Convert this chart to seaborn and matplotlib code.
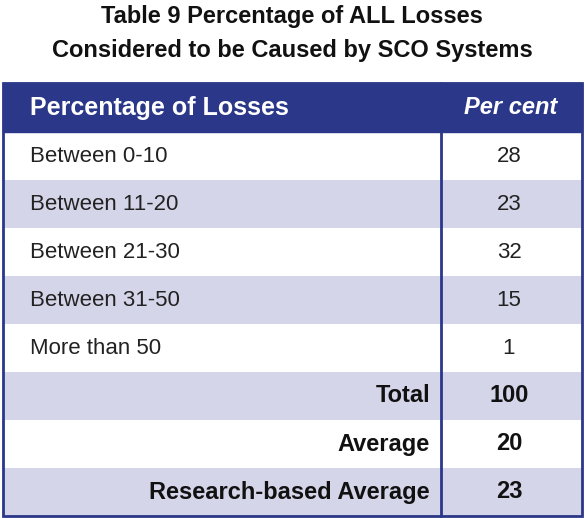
import matplotlib
matplotlib.use("Agg")
import matplotlib.pyplot as plt
import seaborn as sns
from matplotlib.patches import Rectangle

sns.set_style("white")
plt.rcParams['font.family'] = ['Liberation Sans', 'DejaVu Sans']

title = ["Table 9 Percentage of ALL Losses", "Considered to be Caused by SCO Systems"]
header = ["Percentage of Losses", "Per cent"]
categories = ["Between 0-10", "Between 11-20", "Between 21-30", "Between 31-50", "More than 50"]
values = [28, 23, 32, 15, 1]
summary_labels = ["Total", "Average", "Research-based Average"]
summary_values = [100, 20, 23]

navy = "#2b3788"
lav = "#d5d5ea"

fig = plt.figure(figsize=(5.85, 5.18), dpi=100)
ax = fig.add_axes([0, 0, 1, 1])
ax.set_xlim(0, 585)
ax.set_ylim(518, 0)
ax.axis("off")

ax.text(292, 16, title[0], ha="center", va="center", fontsize=17, fontweight="bold", color="#111")
ax.text(292, 50, title[1], ha="center", va="center", fontsize=17, fontweight="bold", color="#111")

x0, x1, xd = 3, 582, 441
top, hh, rh = 83, 49, 48
ax.add_patch(Rectangle((x0, top), x1 - x0, hh, color=navy))
ax.text(30, top + hh / 2, header[0], ha="left", va="center", fontsize=18, fontweight="bold", color="white")
ax.text(511, top + hh / 2, header[1], ha="center", va="center", fontsize=17, fontweight="bold", style="italic", color="white")

rows = [(c, str(v), False) for c, v in zip(categories, values)] + \
       [(c, str(v), True) for c, v in zip(summary_labels, summary_values)]
shade = [False, True, False, True, False, True, False, True]
for i, (lab, val, bold) in enumerate(rows):
    y = top + hh + i * rh
    if shade[i]:
        ax.add_patch(Rectangle((x0, y), x1 - x0, rh, color=lav, lw=0))
    yc = y + rh / 2
    if bold:
        ax.text(430, yc, lab, ha="right", va="center", fontsize=17, fontweight="bold", color="#111")
        ax.text(509, yc, val, ha="center", va="center", fontsize=17, fontweight="bold", color="#111")
    else:
        ax.text(30, yc, lab, ha="left", va="center", fontsize=16, color="#222")
        ax.text(509, yc, val, ha="center", va="center", fontsize=16, color="#222")

bottom = top + hh + len(rows) * rh
ax.plot([xd, xd], [top, bottom], color=navy, lw=2)
ax.add_patch(Rectangle((x0, top), x1 - x0, bottom - top, fill=False, ec=navy, lw=2))

fig.savefig("out.png", dpi=100)
